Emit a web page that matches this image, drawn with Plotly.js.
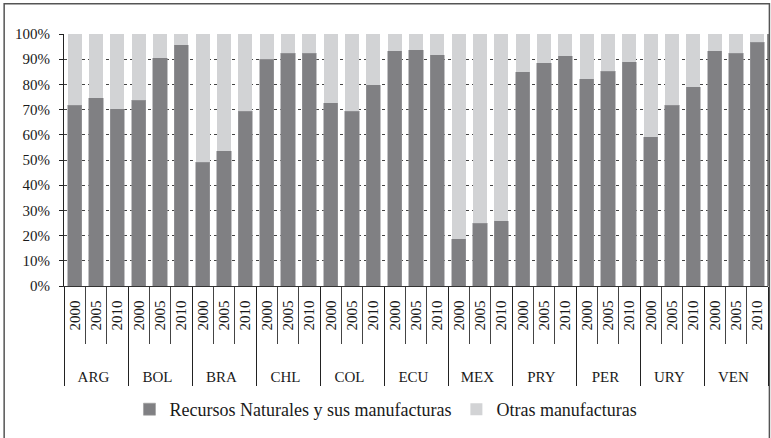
<!DOCTYPE html>
<html>
<head>
<meta charset="utf-8">
<script src="https://cdn.plot.ly/plotly-3.0.1.min.js"></script>
<style>html,body{margin:0;padding:0;background:#fff;}#chart{width:771px;height:438px;}</style>
</head>
<body>
<div id="chart"></div>
<script>
const countries = ["ARG","BOL","BRA","CHL","COL","ECU","MEX","PRY","PER","URY","VEN"];
const years = ["2000","2005","2010"];
const recursos = [
  71.8, 74.7, 70.4,
  73.8, 90.6, 95.8,
  49.2, 53.6, 69.4,
  89.9, 92.3, 92.3,
  72.8, 69.4, 79.9,
  93.3, 93.7, 91.8,
  18.7, 24.9, 25.8,
  85.1, 88.6, 91.4,
  82.3, 85.2, 89.0,
  59.3, 71.8, 79.1,
  93.4, 92.3, 96.7
];
const otras = recursos.map(v => +(100 - v).toFixed(1));

const outer = [], inner = [];
countries.forEach(c => years.forEach(y => { outer.push(c); inner.push(y); }));

const FAM = "Liberation Serif";
const NB = "\u00a0";

const traces = [
  {type: "bar", name: "Recursos Naturales y sus manufacturas", x: [outer, inner], y: recursos,
   marker: {color: "#808083", line: {color: "#9a9a9c", width: 0.6}}},
  {type: "bar", name: "Otras manufacturas", x: [outer, inner], y: otras,
   marker: {color: "#d2d3d5", line: {width: 0}}}
];

const layout = {
  width: 771, height: 438,
  margin: {l: 64, r: 3, t: 34, b: 152},
  barmode: "stack",
  bargap: 0.34,
  paper_bgcolor: "#fff", plot_bgcolor: "#fff",
  font: {family: FAM, size: 14, color: "#1a1a1a"},
  showlegend: true,
  legend: {orientation: "h", x: 0.093, xanchor: "left", y: -0.49, yanchor: "middle",
           font: {family: FAM, size: 18, color: "#1a1a1a"}, traceorder: "normal", itemwidth: 30},
  xaxis: {type: "multicategory", tickangle: -90, showline: true, linecolor: "#333", linewidth: 1,
          ticks: "outside", ticklen: 57, tickcolor: "#444", tickson: "boundaries",
          tickprefix: NB.repeat(6), ticksuffix: NB.repeat(2),
          showdividers: true, dividercolor: "#222", dividerwidth: 1,
          tickfont: {family: FAM, size: 15, color: "#1a1a1a"}, showgrid: false},
  yaxis: {range: [0, 100], tickvals: [0,10,20,30,40,50,60,70,80,90,100],
          ticktext: ["0%","10%","20%","30%","40%","50%","60%","70%","80%","90%","100%"],
          showgrid: true, gridcolor: "#444", griddash: "dot", gridwidth: 1,
          showline: true, linecolor: "#222", linewidth: 1, ticks: "outside", ticklen: 4, tickcolor: "#222",
          ticklabelstandoff: 6,
          tickfont: {family: FAM, size: 15, color: "#1a1a1a"}, zeroline: false, fixedrange: true},
  shapes: [
    {type: "rect", xref: "paper", yref: "paper", x0: -0.085, x1: 1.002, y0: -0.63, y1: 1.12,
     line: {color: "#555", width: 1.5}, fillcolor: "rgba(0,0,0,0)", layer: "below"},
    {type: "line", xref: "paper", yref: "paper", x0: 1, x1: 1, y0: 0, y1: 1,
     line: {color: "#222", width: 1}}
  ]
};

Plotly.newPlot("chart", traces, layout, {displayModeBar: false, staticPlot: true});
</script>
</body>
</html>
